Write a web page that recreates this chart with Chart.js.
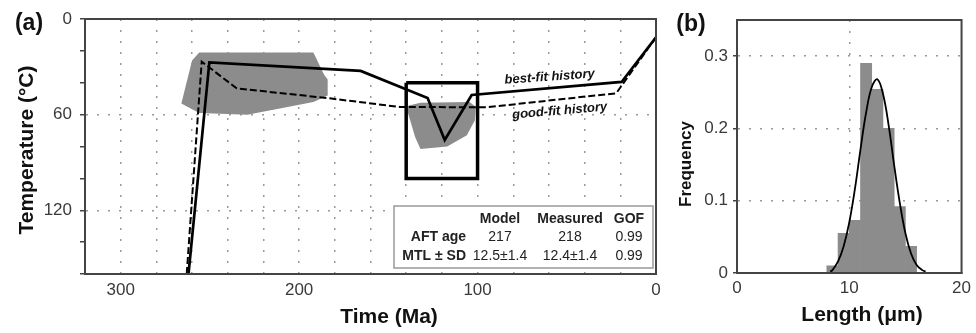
<!DOCTYPE html>
<html lang="en">
<head>
<meta charset="UTF-8">
<title>Thermal history and track lengths</title>
<script src="https://cdn.jsdelivr.net/npm/chart.js"></script>
<style>
  body { margin: 0; background: #fff; width: 976px; height: 333px; overflow: hidden; position: relative; }
  canvas { position: absolute; top: 0; }
  #chartA { left: 0; }
  #chartB { left: 660px; }
</style>
</head>
<body>
<canvas id="chartA" width="665" height="333"></canvas>
<canvas id="chartB" width="316" height="333"></canvas>
<script>
// (a) time-temperature histories, time in Ma, temperature in °C
const bestFitTime = [262, 250.3, 165.5, 128, 118.4, 103.3, 19.3, 0];
const bestFitTemp = [160, 27.2, 32.6, 49.6, 75.9, 47.7, 39.5, 11.5];
const goodFitTime = [263, 254.6, 235, 182.8, 143.6, 95, 22.3, 0];
const goodFitTemp = [160, 26.8, 43.5, 49.8, 55.2, 55.4, 46.6, 11.5];

// gray constraint envelopes
const envOldTime = [256, 192, 186, 184, 184, 192, 229, 256, 266, 260];
const envOldTemp = [21, 21, 35, 38, 48, 52, 60, 59, 53, 26];
const envYoungTime = [139, 132, 104.5, 101, 101.5, 106, 117, 132, 135, 139];
const envYoungTemp = [54.5, 52.5, 52, 55, 63.5, 73, 80, 81.5, 74, 59];

// constraint box
const boxTime = [140, 100, 100, 140, 140];
const boxTemp = [40, 40, 100, 100, 40];

const timeTicks = [0, 20, 40, 60, 80, 100, 120, 140, 160, 180, 200, 220, 240, 260, 280, 300, 320];
const timeLabels = [0, 100, 200, 300];
const tempTicks = [0, 20, 40, 60, 80, 100, 120, 140, 160];
const tempLabels = [0, 60, 120];
const tempGrid = [60, 120];

const tableHead = ['Model', 'Measured', 'GOF'];
const tableRows = [
  ['AFT age', '217', '218', '0.99'],
  ['MTL \u00b1 SD', '12.5\u00b11.4', '12.4\u00b11.4', '0.99']
];

// (b) track length distribution
const lengthBins = [8.5, 9.5, 10.5, 11.5, 12.5, 13.5, 14.5, 15.5];
const lengthFreq = [0.01, 0.055, 0.073, 0.29, 0.254, 0.2, 0.092, 0.037];
const curveLength = [8.3, 8.5, 9, 9.5, 10, 10.5, 11, 11.5, 12, 12.5, 13, 13.5, 14, 14.5, 15, 15.5, 16, 16.5, 16.8];
const curveFreq = [0.002, 0.004, 0.016, 0.037, 0.07, 0.116, 0.171, 0.222, 0.257, 0.268, 0.248, 0.205, 0.149, 0.097, 0.055, 0.027, 0.011, 0.004, 0.002];
const lengthTicks = [0, 10, 20];
const freqTicks = [0, 0.1, 0.2, 0.3];

const fontFamily = '"Liberation Sans", Arial, Helvetica, sans-serif';
const gridColor = '#9a9a9a';
const frameColor = '#444';
const envColor = '#8c8c8c';

Chart.defaults.font.family = fontFamily;
Chart.defaults.color = '#3a3a3a';

const zip = (xs, ys) => xs.map((v, i) => ({ x: v, y: ys[i] }));

const decorA = {
  id: 'decorA',
  afterDatasetsDraw(chart) {
    const { ctx, chartArea: a, scales: { x, y } } = chart;
    ctx.save();
    ctx.strokeStyle = frameColor;
    ctx.lineWidth = 2;
    ctx.strokeRect(a.left, a.top, a.right - a.left, a.bottom - a.top);

    // curve labels
    ctx.fillStyle = '#111';
    ctx.font = 'italic bold 13px ' + fontFamily;
    ctx.textAlign = 'center';
    ctx.textBaseline = 'middle';
    [['best-fit history', 59.6, 36.4, -4], ['good-fit history', 54, 57.7, -5]].forEach(([t, tm, tp, ang]) => {
      ctx.save();
      ctx.translate(x.getPixelForValue(tm), y.getPixelForValue(tp));
      ctx.rotate(ang * Math.PI / 180);
      ctx.fillText(t, 0, 0);
      ctx.restore();
    });

    // results table
    const left = a.right - 262, top = a.bottom - 68;
    ctx.fillStyle = '#fff';
    ctx.fillRect(left, top, 259, 62);
    ctx.strokeStyle = '#999';
    ctx.lineWidth = 1.5;
    ctx.strokeRect(left, top, 259, 62);
    const cols = [left + 106, left + 176, left + 235];
    ctx.fillStyle = '#222';
    ctx.font = 'bold 14px ' + fontFamily;
    tableHead.forEach((h, i) => ctx.fillText(h, cols[i], top + 13));
    tableRows.forEach((row, r) => {
      const ry = top + 31 + r * 19;
      ctx.font = 'bold 14px ' + fontFamily;
      ctx.textAlign = 'right';
      ctx.fillText(row[0], left + 72, ry);
      ctx.font = '14px ' + fontFamily;
      ctx.textAlign = 'center';
      row.slice(1).forEach((v, i) => ctx.fillText(v, cols[i], ry));
    });
    ctx.restore();
  },
  afterDraw(chart) {
    const { ctx } = chart;
    ctx.save();
    ctx.fillStyle = '#111';
    ctx.textAlign = 'center';
    ctx.textBaseline = 'middle';
    ctx.font = 'bold 23px ' + fontFamily;
    ctx.fillText('(a)', 29, 24);
    ctx.font = 'bold 21px ' + fontFamily;
    ctx.fillText('Time (Ma)', 389, 317);
    ctx.translate(27, 150);
    ctx.rotate(-Math.PI / 2);
    ctx.fillText('Temperature (\u00b0C)', 0, 0);
    ctx.restore();
  }
};

new Chart(document.getElementById('chartA'), {
  type: 'line',
  data: {
    datasets: [
      { data: zip(bestFitTime, bestFitTemp), borderColor: '#000', borderWidth: 2.7, order: 0 },
      { data: zip(goodFitTime, goodFitTemp), borderColor: '#000', borderWidth: 2, borderDash: [7, 3], order: 0 },
      { data: zip(boxTime, boxTemp), borderColor: '#000', borderWidth: 3.5, order: 1 },
      { data: zip(envOldTime, envOldTemp), borderWidth: 0, backgroundColor: envColor, fill: 'shape', order: 3 },
      { data: zip(envYoungTime, envYoungTemp), borderWidth: 0, backgroundColor: envColor, fill: 'shape', order: 3 }
    ]
  },
  options: {
    responsive: false,
    animation: false,
    layout: { padding: { left: 0, top: 19, right: 9, bottom: 0 } },
    elements: { point: { radius: 0 }, line: { tension: 0 } },
    plugins: { legend: { display: false }, tooltip: { enabled: false } },
    scales: {
      x: {
        type: 'linear', min: 0, max: 320, reverse: true,
        afterBuildTicks: s => { s.ticks = timeTicks.map(v => ({ value: v })); },
        afterFit: s => { s.height = 59; },
        ticks: { autoSkip: false, maxRotation: 0, padding: 6, font: { size: 17 },
          callback: v => timeLabels.includes(v) ? v : '' },
        grid: { drawTicks: false, lineWidth: 1.5, tickBorderDash: [],
          color: c => (c.tick && c.tick.value > 0 && c.tick.value < 320) ? gridColor : 'transparent' },
        border: { color: frameColor, width: 2, dash: [2, 9] }
      },
      y: {
        type: 'linear', min: 0, max: 160, reverse: true,
        afterBuildTicks: s => { s.ticks = tempTicks.map(v => ({ value: v })); },
        afterFit: s => { s.width = 85; },
        ticks: { autoSkip: false, padding: 8, font: { size: 17 },
          callback: v => tempLabels.includes(v) ? v : '' },
        grid: { tickLength: 5, tickColor: frameColor, tickBorderDash: [], lineWidth: 1.5,
          color: c => (c.tick && tempGrid.includes(c.tick.value)) ? gridColor : 'transparent' },
        border: { color: frameColor, width: 2, dash: [2, 9] }
      }
    }
  },
  plugins: [decorA]
});

const decorB = {
  id: 'decorB',
  afterDatasetsDraw(chart) {
    const { ctx, chartArea: a } = chart;
    ctx.save();
    ctx.strokeStyle = frameColor;
    ctx.lineWidth = 2;
    ctx.strokeRect(a.left, a.top, a.right - a.left, a.bottom - a.top);
    ctx.restore();
  },
  afterDraw(chart) {
    const { ctx } = chart;
    ctx.save();
    ctx.fillStyle = '#111';
    ctx.textAlign = 'center';
    ctx.textBaseline = 'middle';
    ctx.font = 'bold 23px ' + fontFamily;
    ctx.fillText('(b)', 31, 25);
    ctx.font = 'bold 21px ' + fontFamily;
    ctx.fillText('Length (\u03bcm)', 202, 315);
    ctx.font = 'bold 17px ' + fontFamily;
    ctx.translate(26, 164);
    ctx.rotate(-Math.PI / 2);
    ctx.fillText('Frequency', 0, 0);
    ctx.restore();
  }
};

new Chart(document.getElementById('chartB'), {
  type: 'bar',
  data: {
    datasets: [
      { type: 'line', data: zip(curveLength, curveFreq), borderColor: '#000', borderWidth: 1.8,
        pointRadius: 0, tension: 0.4, fill: false, order: 0 },
      { type: 'bar', data: zip(lengthBins, lengthFreq), backgroundColor: envColor, borderWidth: 0,
        barPercentage: 1, categoryPercentage: 1, order: 1 }
    ]
  },
  options: {
    responsive: false,
    animation: false,
    layout: { padding: { left: 0, top: 20, right: 9, bottom: 0 } },
    plugins: { legend: { display: false }, tooltip: { enabled: false } },
    scales: {
      x: {
        type: 'linear', min: 0, max: 20, offset: false,
        afterBuildTicks: s => { s.ticks = lengthTicks.map(v => ({ value: v })); },
        afterFit: s => { s.height = 60; },
        ticks: { autoSkip: false, maxRotation: 0, padding: 5, font: { size: 17 } },
        grid: { offset: false, drawTicks: false, lineWidth: 1.5, tickBorderDash: [],
          color: c => (c.tick && c.tick.value === 10) ? gridColor : 'transparent' },
        border: { color: frameColor, width: 2, dash: [2, 9] }
      },
      y: {
        type: 'linear', min: 0, max: 0.35,
        afterBuildTicks: s => { s.ticks = freqTicks.map(v => ({ value: v })); },
        afterFit: s => { s.width = 77; },
        ticks: { autoSkip: false, padding: 5, font: { size: 17 },
          callback: v => v === 0 ? '0' : v.toFixed(1) },
        grid: { tickLength: 4, tickColor: frameColor, tickBorderDash: [], lineWidth: 1.5,
          color: c => (c.tick && c.tick.value > 0) ? gridColor : 'transparent' },
        border: { color: frameColor, width: 2, dash: [2, 9] }
      }
    }
  },
  plugins: [decorB]
});
</script>
</body>
</html>
